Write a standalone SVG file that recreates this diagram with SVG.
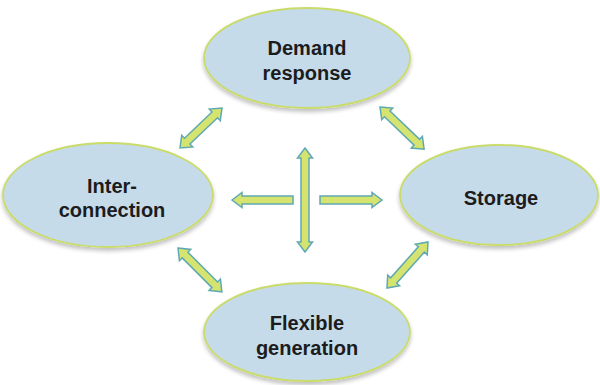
<svg xmlns="http://www.w3.org/2000/svg" width="600" height="385" viewBox="0 0 600 385">
<defs>
<filter id="sh" x="-10%" y="-10%" width="120%" height="130%">
<feGaussianBlur in="SourceAlpha" stdDeviation="2"/>
<feOffset dx="0" dy="3" result="b"/>
<feComponentTransfer><feFuncA type="linear" slope="0.25"/></feComponentTransfer>
<feMerge><feMergeNode/><feMergeNode in="SourceGraphic"/></feMerge>
</filter>
</defs>
<style>
.node ellipse{fill:#c6dbea;stroke:#c9dc6a;stroke-width:1.8;filter:url(#sh)}
.node text{font-family:"Liberation Sans",Arial,sans-serif;font-weight:bold;font-size:20px;fill:#1c1c1c;text-anchor:middle}
.arr{fill:#d5e36f;stroke:#5ea9b3;stroke-width:1.5;stroke-linejoin:miter}
</style>
<rect width="600" height="385" fill="#ffffff"/>
<g id="connectors">
<g transform="translate(180,148) rotate(-43.6)"><path class="arr" d="M0,0 L10,-8 L10,-4 L48,-4 L48,-8 L58,0 L48,8 L48,4 L10,4 L10,8 Z"/></g>
<g transform="translate(178,248) rotate(45)"><path class="arr" d="M0,0 L10,-8 L10,-4 L52,-4 L52,-8 L62,0 L52,8 L52,4 L10,4 L10,8 Z"/></g>
<g transform="translate(380,107) rotate(43.7)"><path class="arr" d="M0,0 L10,-8 L10,-4 L51,-4 L51,-8 L61,0 L51,8 L51,4 L10,4 L10,8 Z"/></g>
<g transform="translate(387,288) rotate(-48.3)"><path class="arr" d="M0,0 L10,-8 L10,-4 L51.6,-4 L51.6,-8 L61.6,0 L51.6,8 L51.6,4 L10,4 L10,8 Z"/></g>
<path class="arr" d="M305,148 L312.5,158 L309,158 L309,242 L312.5,242 L305,252 L297.5,242 L301,242 L301,158 L297.5,158 Z"/>
<path class="arr" d="M232,200 L242,192.5 L242,196 L293,196 L293,204 L242,204 L242,207.5 Z"/>
<path class="arr" d="M382,200 L372,192.5 L372,196 L320,196 L320,204 L372,204 L372,207.5 Z"/>
</g>
<g id="demand-response" class="node">
<ellipse cx="307" cy="58" rx="103" ry="50"/>
<text x="307" y="55">Demand</text>
<text x="307" y="80">response</text>
</g>
<g id="interconnection" class="node">
<ellipse cx="108" cy="195" rx="105" ry="52"/>
<text x="112" y="193">Inter-</text>
<text x="112" y="217">connection</text>
</g>
<g id="storage" class="node">
<ellipse cx="499" cy="195" rx="99" ry="50"/>
<text x="501" y="205">Storage</text>
</g>
<g id="flexible-generation" class="node">
<ellipse cx="307" cy="332" rx="103" ry="49"/>
<text x="307" y="330">Flexible</text>
<text x="307" y="355">generation</text>
</g>
</svg>
